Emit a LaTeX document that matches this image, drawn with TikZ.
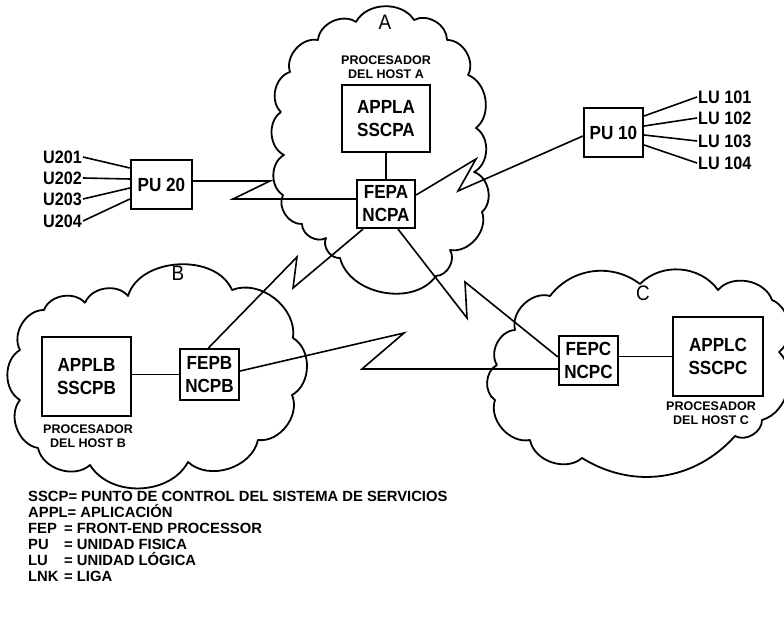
\documentclass[tikz,border=0pt]{standalone}
\usepackage{fontspec}
\setsansfont{Liberation Sans}
\newfontfamily\unitfont{Liberation Sans}[FakeStretch=0.9]
\tikzset{every picture/.style={/utils/exec={\sffamily}}}

\tikzset{
	unit/.style={draw, line width=2.2pt, align=center, inner sep=0pt,
		font=\unitfont\bfseries\fontsize{19}{23}\selectfont},
	link/.style={line width=1.6pt},
	cloudline/.style={line width=1.8pt, line join=round},
	hostlbl/.style={align=center, inner sep=0pt,
		font=\bfseries\fontsize{12.5}{14.5}\selectfont},
	term/.style={inner sep=1pt, font=\unitfont\bfseries\fontsize{18}{20}\selectfont},
	netlbl/.style={inner sep=0pt, font=\unitfont\fontsize{21}{23}\selectfont},
}

\begin{document}
\begin{tikzpicture}[x=1pt, y=-1pt]
		\useasboundingbox[fill=white] (0,0) rectangle (784,617);

		% nubes
		\draw[cloudline] (281,112) to[bend left=60] (290,72) to[bend left=60] (318,40)
			to[bend left=60] (356,22) to[bend left=60] (414,20) to[bend left=60] (447,40)
			to[bend left=60] (468,75) to[bend left=60] (476,128) to[bend left=60] (474,172)
			to[bend left=60] (482,212) to[bend left=60] (450,250) to[bend left=60] (436,276)
			to[bend left=65] (340,258) to[bend left=60] (326,238) to[bend left=60] (302,224)
			to[bend left=60] (283,195) to[bend left=60] (284,155) to[bend left=60] (281,112);

		\draw[cloudline] (85,303) to[bend left=60] (128,296) to[bend left=70] (232,290)
			to[bend left=60] (293,338) to[bend left=60] (292,395) to[bend left=60] (258,440)
			to[bend left=60] (188,462) to[bend left=60] (90,465) to[bend left=60] (38,448)
			to[bend left=60] (20,400) to[bend left=60] (20,350) to[bend left=60] (44,310)
			to[bend left=60] (85,303);

		\draw[cloudline] (497,365) to[bend left=60] (515,330) to[bend left=60] (550,296)
			to[bend left=45] (640,284) to[bend left=50] (718,290) to[bend left=60] (772,300)
			to[bend left=60] (779,352) to[bend left=60] (762,420) to[bend left=60] (735,436)
			to[bend left=40] (582,458) to[bend left=60] (530,440) to[bend left=60] (495,400)
			to[bend left=60] (497,365);

		\node[netlbl] (nameA) at (385,22) {A};
		\node[netlbl] (nameB) at (178,273) {B};
		\node[netlbl] (nameC) at (643,293) {C};

		% host A
		\node[hostlbl] (hostA) at (386,67) {PROCESADOR\\DEL HOST A};
		\node[unit, minimum width=88, minimum height=67] (appla) at (386,118.5) {APPLA\\SSCPA};
		\node[unit, minimum width=58, minimum height=48] (fepa) at (386,204) {FEPA\\NCPA};
		\draw[link] (appla) -- (fepa);

		% host B
		\node[unit, minimum width=89, minimum height=79] (applb) at (86.5,376.5) {APPLB\\SSCPB};
		\node[hostlbl] (hostB) at (88,436) {PROCESADOR\\DEL HOST B};
		\node[unit, minimum width=59, minimum height=51] (fepb) at (209.5,374.5) {FEPB\\NCPB};
		\draw[link] (fepb.west) -- (fepb.west -| applb.east);

		% host C
		\node[unit, minimum width=59, minimum height=49] (fepc) at (588.5,360.5) {FEPC\\NCPC};
		\node[unit, minimum width=90, minimum height=79] (applc) at (718,356.5) {APPLC\\SSCPC};
		\node[hostlbl] (hostC) at (711,413) {PROCESADOR\\DEL HOST C};
		\draw[link] (applc.west -| fepc.east) -- (applc.west);

		% PU 20
		\node[unit, minimum width=61, minimum height=49] (pu20) at (161.5,184.5) {PU 20};
		\node[term, anchor=east] (u201) at (83,157) {U201};
		\node[term, anchor=east] (u202) at (83,178) {U202};
		\node[term, anchor=east] (u203) at (83,199) {U203};
		\node[term, anchor=east] (u204) at (83,221) {U204};
		\draw[link] (u201.east) -- ([yshift=16.5pt]pu20.west);
		\draw[link] (u202.east) -- ([yshift=5.5pt]pu20.west);
		\draw[link] (u203.east) -- ([yshift=-3.5pt]pu20.west);
		\draw[link] (u204.east) -- ([yshift=-14.5pt]pu20.west);

		% PU 10
		\node[unit, minimum width=59, minimum height=49] (pu10) at (613.5,132.5) {PU 10};
		\node[term, anchor=west] (lu101) at (697,97) {LU 101};
		\node[term, anchor=west] (lu102) at (697,118) {LU 102};
		\node[term, anchor=west] (lu103) at (697,141) {LU 103};
		\node[term, anchor=west] (lu104) at (697,163) {LU 104};
		\draw[link] ([yshift=16.5pt]pu10.east) -- (lu101.west);
		\draw[link] ([yshift=6.5pt]pu10.east) -- (lu102.west);
		\draw[link] ([yshift=-2.5pt]pu10.east) -- (lu103.west);
		\draw[link] ([yshift=-12.5pt]pu10.east) -- (lu104.west);

		% ligas
		\coordinate (kA1) at (270,181);
		\coordinate (kA2) at (233,199);
		\draw[link] (pu20.east |- kA1) -- (kA1) -- (kA2) -- (kA2 -| fepa.west);

		\coordinate (kB1) at (476,159);
		\coordinate (kB2) at (458,191);
		\draw[link] ([yshift=9pt]fepa.east) -- (kB1) -- (kB2) -- ([yshift=-3.5pt]pu10.west);

		\coordinate (kC1) at (297,257);
		\coordinate (kC2) at (293,288);
		\draw[link] ([xshift=-1pt]fepb.north) -- (kC1) -- (kC2) -- ([xshift=-23pt]fepa.south);

		\coordinate (kD1) at (467,318);
		\coordinate (kD2) at (465,282);
		\draw[link] ([xshift=12pt]fepa.south) -- (kD1) -- (kD2) -- ([yshift=3.5pt]fepc.west);

		\coordinate (kE1) at (404,333);
		\coordinate (kE2) at (362,369);
		\draw[link] ([yshift=3.5pt]fepb.east) -- (kE1) -- (kE2) -- (kE2 -| fepc.west);

		% claves
		\node[anchor=north west, align=left, inner sep=0pt,
			font=\bfseries\fontsize{14.8}{16}\selectfont] (key) at (28,491)
			{SSCP= PUNTO DE CONTROL DEL SISTEMA DE SERVICIOS\\
			APPL= APLICACIÓN\\
			\makebox[36pt][l]{FEP}= FRONT-END PROCESSOR\\
			\makebox[36pt][l]{PU}= UNIDAD FISICA\\
			\makebox[36pt][l]{LU}= UNIDAD LÓGICA\\
			\makebox[36pt][l]{LNK}= LIGA};
	\end{tikzpicture}
\end{document}
